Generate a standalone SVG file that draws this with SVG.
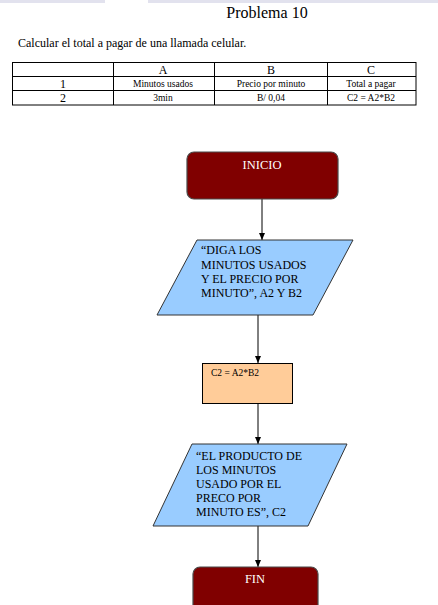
<svg xmlns="http://www.w3.org/2000/svg" width="438" height="605" viewBox="0 0 438 605">
<defs>
<style>
text{font-family:"Liberation Serif","Times New Roman",serif;fill:#000}
.t{font-size:12px}
.s{font-size:9.5px}
.cell{fill:none;stroke:#000;stroke-width:1}
.term{fill:#800000;stroke:#4a4a4a;stroke-width:1.2}
.io{fill:#99ccff;stroke:#333;stroke-width:1}
.proc{fill:#ffcc99;stroke:#000;stroke-width:1}
.fl{font-size:12px}
.w{fill:#fff;font-size:12.5px}
.conn{stroke:#000;stroke-width:1;fill:none;marker-end:url(#ah)}
</style>
<marker id="ah" markerWidth="8" markerHeight="8" refX="7" refY="4" orient="auto" markerUnits="userSpaceOnUse">
<path d="M0,1 L7,4 L0,7 Z" fill="#000"/>
</marker>
</defs>
<rect x="0" y="0" width="438" height="605" fill="#fff"/>
<rect x="0" y="0" width="105" height="3" fill="#e2e2ee"/>
<rect x="148" y="0" width="290" height="3" fill="#e2e2ee"/>

<g id="header">
<text x="267" y="18" text-anchor="middle" font-size="16">Problema 10</text>
<text x="18" y="47" class="t">Calcular el total a pagar de una llamada celular.</text>
</g>

<g id="table">
<rect class="cell" x="12.5" y="62.5" width="403.5" height="42.5"/>
<line class="cell" x1="12.5" y1="76.5" x2="416" y2="76.5"/>
<line class="cell" x1="12.5" y1="90.5" x2="416" y2="90.5"/>
<line class="cell" x1="113.5" y1="62.5" x2="113.5" y2="105"/>
<line class="cell" x1="214.5" y1="62.5" x2="214.5" y2="105"/>
<line class="cell" x1="327.5" y1="62.5" x2="327.5" y2="105"/>
<text x="163" y="74" class="t" text-anchor="middle">A</text>
<text x="271" y="74" class="t" text-anchor="middle">B</text>
<text x="371" y="74" class="t" text-anchor="middle">C</text>
<text x="63" y="88" class="t" text-anchor="middle">1</text>
<text x="63" y="102" class="t" text-anchor="middle">2</text>
<text x="163" y="87" class="s" text-anchor="middle">Minutos usados</text>
<text x="271" y="87" class="s" text-anchor="middle">Precio por minuto</text>
<text x="371" y="87" class="s" text-anchor="middle">Total a pagar</text>
<text x="163" y="101" class="s" text-anchor="middle">3min</text>
<text x="271" y="101" class="s" text-anchor="middle">B/ 0,04</text>
<text x="371" y="101" class="s" text-anchor="middle">C2 = A2*B2</text>
</g>

<g id="connectors">
<line class="conn" x1="262" y1="199" x2="262" y2="240"/>
<line class="conn" x1="258" y1="315" x2="258" y2="363"/>
<line class="conn" x1="258" y1="403" x2="258" y2="444"/>
<line class="conn" x1="258" y1="526" x2="258" y2="567"/>
</g>

<g id="inicio">
<rect class="term" x="187" y="152" width="151" height="47" rx="7"/>
<text x="262" y="169" class="w" text-anchor="middle">INICIO</text>
</g>

<g id="entrada">
<polygon class="io" points="197,240 353,240 313,315 157,315"/>
<text class="fl" x="201" y="254">“DIGA LOS</text>
<text class="fl" x="201" y="268.5">MINUTOS USADOS</text>
<text class="fl" x="201" y="283">Y EL PRECIO POR</text>
<text class="fl" x="201" y="297">MINUTO”, A2 Y B2</text>
</g>

<g id="proceso">
<rect class="proc" x="202.5" y="363.5" width="90" height="40"/>
<text x="211" y="376" class="s">C2 = A2*B2</text>
</g>

<g id="salida">
<polygon class="io" points="192,444 347,444 308,526 153,526"/>
<text class="fl" x="196" y="460">“EL PRODUCTO DE</text>
<text class="fl" x="196" y="474">LOS MINUTOS</text>
<text class="fl" x="196" y="488">USADO POR EL</text>
<text class="fl" x="196" y="502">PRECO POR</text>
<text class="fl" x="196" y="516">MINUTO ES”, C2</text>
</g>

<g id="fin">
<rect class="term" x="193" y="567" width="125" height="50" rx="7"/>
<text x="255" y="583" class="w" text-anchor="middle">FIN</text>
</g>
</svg>
